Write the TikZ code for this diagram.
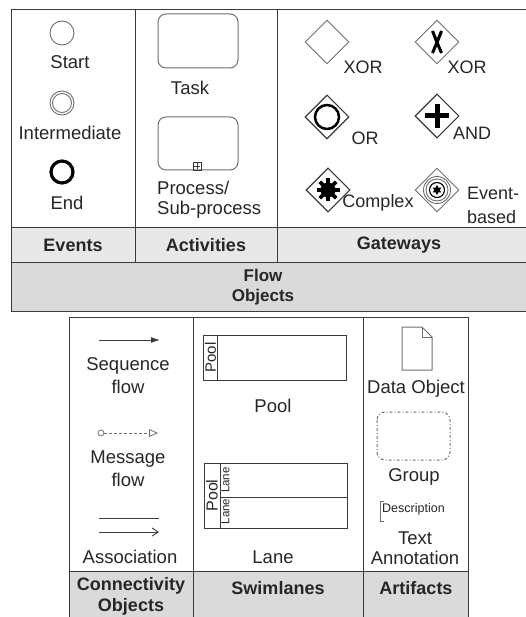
\documentclass[tikz,border=0pt]{standalone}
\usepackage{fontspec}
\setmainfont{Liberation Sans}
\usetikzlibrary{shapes.geometric,arrows.meta}
\definecolor{ln}{HTML}{3A3A3A}
\definecolor{txt}{HTML}{262626}
\definecolor{hdr}{HTML}{E8E8E8}
\definecolor{hdrd}{HTML}{DADADA}
\definecolor{gry}{HTML}{6E6E6E}
\begin{document}
\begin{tikzpicture}[x=1pt,y=-1pt,
 lbl/.style={font=\fontsize{18.5}{23}\selectfont, text=txt, inner sep=0pt, align=center},
 hd/.style={font=\fontsize{18}{21}\selectfont\bfseries, text=txt, inner sep=0pt, align=center},
 grid/.style={draw=ln, line width=1pt},
 gw/.style={diamond, draw=gry, line width=0.9pt, minimum width=44pt, minimum height=44pt, inner sep=0pt},
 ev/.style={circle, minimum size=24pt, inner sep=0pt},
 box/.style={draw=ln, line width=1pt},
]
\useasboundingbox (0,0) rectangle (526,617);

% ---------- top table ----------
\fill[hdr] (11,228) rectangle (526,262);
\fill[hdrd] (11,262) rectangle (526,311);
\draw[grid] (526,10) -- (11,10) -- (11,311) -- (526,311);
\draw[grid] (11,228) -- (526,228);
\draw[grid] (11,262) -- (526,262);
\draw[grid] (135,10) -- (135,262);
\draw[grid] (277,10) -- (277,262);

% events
\node[ev, draw=gry, line width=0.9pt] (start) at (62,33) {};
\node[lbl] (startl) at (70,62) {Start};
\node[ev, draw=gry, line width=0.9pt] (inter) at (62,103) {};
\node[circle, minimum size=19pt, inner sep=0pt, draw=gry, line width=0.9pt] (inter2) at (62,103) {};
\node[lbl] (interl) at (70,133) {Intermediate};
\node[ev, minimum size=22pt, draw=black, line width=3.2pt] (end) at (62,172) {};
\node[lbl] (endl) at (67,203) {End};

% activities
\draw[draw=gry, line width=1pt, rounded corners=8pt] (158,14) rectangle (238,68);
\node[lbl] (taskl) at (190,88) {Task};
\draw[draw=gry, line width=1pt, rounded corners=8pt] (158,117) rectangle (238,170);
\node[draw=ln, line width=0.7pt, minimum size=8pt, inner sep=0pt] (plus) at (197,166) {};
\draw[ln, line width=0.7pt] (194,166) -- (200,166) (197,163) -- (197,169);
\node[lbl, align=left, anchor=west, font=\fontsize{18.5}{20}\selectfont] (procl) at (157,200) {Process/\\Sub-process};

% gateways
\node[gw] (g1) at (327,42) {};
\node[lbl, font=\fontsize{18}{20}\selectfont] (g1l) at (363,67) {XOR};
\node[gw] (g2) at (437,42) {};
\draw[black, line width=3pt] (432.5,31) .. controls (436,40) .. (441.5,53);
\draw[black, line width=3pt] (441.5,31) .. controls (438,40) .. (432.5,53);
\node[lbl, font=\fontsize{18}{20}\selectfont] (g2l) at (467,67) {XOR};

\node[gw, line width=1.1pt, draw=ln] (g3) at (327,117) {};
\node[circle, draw=black, line width=2.5pt, minimum size=24pt, inner sep=0pt] (g3c) at (327,117) {};
\node[lbl, font=\fontsize{18}{20}\selectfont] (g3l) at (365,138) {OR};
\node[gw, line width=1.1pt, draw=ln] (g4) at (437,116) {};
\draw[black, line width=5pt] (425,116) -- (449,116) (437,104) -- (437,128);
\node[lbl, font=\fontsize{18}{20}\selectfont] (g4l) at (472,133) {AND};

\node[gw, line width=1.1pt, draw=ln] (g5) at (328,190) {};
\fill[black] (328,190) circle (7.5pt);
\foreach \a in {0,45,90,135} \draw[black, line width=3.6pt] (328,190) ++(\a:-11.5) -- ++(\a:23);
\node[lbl, font=\fontsize{18}{20}\selectfont] (g5l) at (378,203) {Complex};
\node[gw, line width=0.9pt] (g6) at (437,190) {};
\draw[gry, line width=0.9pt] (437,190) circle (13.5pt);
\draw[gry, line width=0.9pt] (437,190) circle (11pt);
\draw[black, line width=1.1pt] (437,190) circle (7.5pt);
\node[star, star points=6, star point ratio=1.8, fill=black, minimum size=10pt, inner sep=0pt] (g6s) at (437,190) {};
\node[lbl, align=left, anchor=west, font=\fontsize{18}{24}\selectfont] (g6l) at (467,205) {Event-\\based};

% headers
\node[hd] (hev) at (73,245) {Events};
\node[hd] (hact) at (206,245) {Activities};
\node[hd] (hgw) at (399,245) {Gateways};
\node[hd, font=\fontsize{17}{20}\selectfont\bfseries] (hflow) at (263,287) {Flow\\Objects};

% ---------- bottom table ----------
\fill[hdrd] (69,571) rectangle (468,617);
\draw[grid] (69,617) -- (69,317) -- (468,317) -- (468,617);
\draw[grid] (69,571) -- (468,571);
\draw[grid] (193,317) -- (193,617);
\draw[grid] (363,317) -- (363,617);

% connectivity
\coordinate (sqa) at (99,340);
\coordinate (sqb) at (160,340);
\draw[ln, line width=1pt, -{Latex[length=9pt,width=6pt]}] (sqa) -- (sqb);
\node[lbl] (sql) at (128,375.5) {Sequence\\flow};
\node[circle, draw=gry, line width=0.8pt, minimum size=6pt, inner sep=0pt] (mfa) at (101,433) {};
\coordinate (mfb) at (158,433);
\draw[gry, line width=0.8pt, densely dashed, -{Triangle[open, length=9pt, width=8pt]}] (mfa) -- (mfb);
\node[lbl] (mfl) at (128,468.5) {Message\\flow};
\coordinate (asa) at (99,518);
\coordinate (asb) at (159,518);
\coordinate (asc) at (99,532);
\coordinate (asd) at (159,532);
\draw[ln, line width=0.9pt] (asa) -- (asb);
\draw[ln, line width=0.9pt, -{Straight Barb[length=6pt,width=8pt]}] (asc) -- (asd);
\node[lbl] (asl) at (130,557) {Association};

% swimlanes
\draw[box] (203,335) rectangle (346,380);
\draw[box] (217,335) -- (217,380);
\node[lbl, font=\fontsize{15}{15}\selectfont, rotate=90] (p1) at (210.5,357.5) {Pool};
\node[lbl] (pooll) at (273,406) {Pool};
\draw[box] (204,463) rectangle (347,528);
\draw[box] (220,463) -- (220,528);
\draw[box] (220,497) -- (347,497);
\node[lbl, font=\fontsize{16}{16}\selectfont, rotate=90] (p2) at (212,495.5) {Pool};
\node[lbl, font=\fontsize{11.5}{12}\selectfont, rotate=90] (l1) at (225.5,480) {Lane};
\node[lbl, font=\fontsize{11.5}{12}\selectfont, rotate=90] (l2) at (225.5,511.5) {Lane};
\node[lbl] (lanel) at (273,557) {Lane};

% artifacts
\draw[gry, line width=1pt, line join=round] (402,327) -- (422,327) -- (432,337) -- (432,370) -- (402,370) -- cycle;
\draw[gry, line width=1pt, line join=round] (422,327) -- (422,337) -- (432,337);
\node[lbl] (dol) at (416,389) {Data Object};
\draw[gry, line width=1pt, dash dot, rounded corners=8pt] (377,412) rectangle (450,460);
\node[lbl] (grl) at (414,477) {Group};
\draw[gry, line width=0.8pt] (384,501) -- (380,501) -- (380,521) -- (384,521);
\node[lbl, font=\fontsize{12.5}{13}\selectfont, anchor=west] (desc) at (382,509) {Description};
\node[lbl, font=\fontsize{18.5}{20}\selectfont] (tal) at (415,548) {Text\\Annotation};

% headers
\node[hd, font=\fontsize{18}{21}\selectfont\bfseries] (hco) at (131,596.5) {Connectivity\\Objects};
\node[hd] (hsw) at (278,588) {Swimlanes};
\node[hd] (har) at (416,588) {Artifacts};
\end{tikzpicture}
\end{document}
